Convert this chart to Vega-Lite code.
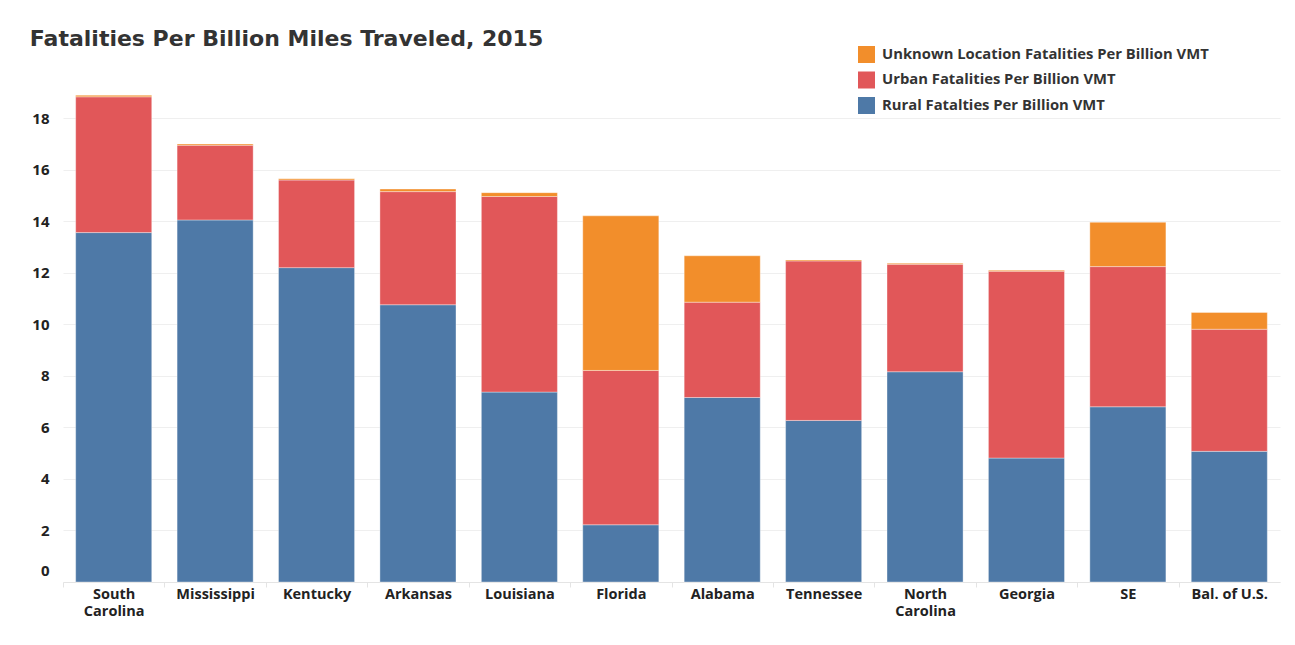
{
  "$schema": "https://vega.github.io/schema/vega-lite/v6.json",
  "width": 1217,
  "height": 512,
  "autosize": {"type": "none"},
  "padding": {"left": 63, "top": 70, "right": 15, "bottom": 63},
  "background": "white",
  "title": {"text": "Fatalities Per Billion Miles Traveled, 2015", "anchor": "start", "dx": -2, "dy": 45, "offset": 23, "baseline": "alphabetic", "font": "DejaVu Sans", "fontSize": 22, "fontWeight": "bold", "color": "#333333"},
  "data": {"values": [
    {"state": "South Carolina", "category": "Rural Fatalties Per Billion VMT", "rank": 1, "value": 13.56},
    {"state": "South Carolina", "category": "Urban Fatalities Per Billion VMT", "rank": 2, "value": 5.27},
    {"state": "South Carolina", "category": "Unknown Location Fatalities Per Billion VMT", "rank": 3, "value": 0.06},
    {"state": "Mississippi", "category": "Rural Fatalties Per Billion VMT", "rank": 1, "value": 14.05},
    {"state": "Mississippi", "category": "Urban Fatalities Per Billion VMT", "rank": 2, "value": 2.90},
    {"state": "Mississippi", "category": "Unknown Location Fatalities Per Billion VMT", "rank": 3, "value": 0.05},
    {"state": "Kentucky", "category": "Rural Fatalties Per Billion VMT", "rank": 1, "value": 12.20},
    {"state": "Kentucky", "category": "Urban Fatalities Per Billion VMT", "rank": 2, "value": 3.40},
    {"state": "Kentucky", "category": "Unknown Location Fatalities Per Billion VMT", "rank": 3, "value": 0.05},
    {"state": "Arkansas", "category": "Rural Fatalties Per Billion VMT", "rank": 1, "value": 10.76},
    {"state": "Arkansas", "category": "Urban Fatalities Per Billion VMT", "rank": 2, "value": 4.39},
    {"state": "Arkansas", "category": "Unknown Location Fatalities Per Billion VMT", "rank": 3, "value": 0.10},
    {"state": "Louisiana", "category": "Rural Fatalties Per Billion VMT", "rank": 1, "value": 7.37},
    {"state": "Louisiana", "category": "Urban Fatalities Per Billion VMT", "rank": 2, "value": 7.59},
    {"state": "Louisiana", "category": "Unknown Location Fatalities Per Billion VMT", "rank": 3, "value": 0.15},
    {"state": "Florida", "category": "Rural Fatalties Per Billion VMT", "rank": 1, "value": 2.22},
    {"state": "Florida", "category": "Urban Fatalities Per Billion VMT", "rank": 2, "value": 5.99},
    {"state": "Florida", "category": "Unknown Location Fatalities Per Billion VMT", "rank": 3, "value": 6.00},
    {"state": "Alabama", "category": "Rural Fatalties Per Billion VMT", "rank": 1, "value": 7.16},
    {"state": "Alabama", "category": "Urban Fatalities Per Billion VMT", "rank": 2, "value": 3.70},
    {"state": "Alabama", "category": "Unknown Location Fatalities Per Billion VMT", "rank": 3, "value": 1.80},
    {"state": "Tennessee", "category": "Rural Fatalties Per Billion VMT", "rank": 1, "value": 6.27},
    {"state": "Tennessee", "category": "Urban Fatalities Per Billion VMT", "rank": 2, "value": 6.19},
    {"state": "Tennessee", "category": "Unknown Location Fatalities Per Billion VMT", "rank": 3, "value": 0.04},
    {"state": "North Carolina", "category": "Rural Fatalties Per Billion VMT", "rank": 1, "value": 8.16},
    {"state": "North Carolina", "category": "Urban Fatalities Per Billion VMT", "rank": 2, "value": 4.17},
    {"state": "North Carolina", "category": "Unknown Location Fatalities Per Billion VMT", "rank": 3, "value": 0.04},
    {"state": "Georgia", "category": "Rural Fatalties Per Billion VMT", "rank": 1, "value": 4.81},
    {"state": "Georgia", "category": "Urban Fatalities Per Billion VMT", "rank": 2, "value": 7.25},
    {"state": "Georgia", "category": "Unknown Location Fatalities Per Billion VMT", "rank": 3, "value": 0.04},
    {"state": "SE", "category": "Rural Fatalties Per Billion VMT", "rank": 1, "value": 6.80},
    {"state": "SE", "category": "Urban Fatalities Per Billion VMT", "rank": 2, "value": 5.44},
    {"state": "SE", "category": "Unknown Location Fatalities Per Billion VMT", "rank": 3, "value": 1.72},
    {"state": "Bal. of U.S.", "category": "Rural Fatalties Per Billion VMT", "rank": 1, "value": 5.07},
    {"state": "Bal. of U.S.", "category": "Urban Fatalities Per Billion VMT", "rank": 2, "value": 4.74},
    {"state": "Bal. of U.S.", "category": "Unknown Location Fatalities Per Billion VMT", "rank": 3, "value": 0.65}
  ]},
  "mark": {"type": "bar", "stroke": "#ffffff", "strokeWidth": 0.6, "strokeOpacity": 0.6},
  "encoding": {
    "x": {
      "field": "state", "type": "nominal", "sort": null,
      "scale": {"paddingInner": 0.25, "paddingOuter": 0.125},
      "axis": {
        "title": null, "labelAngle": 0, "grid": false,
        "domain": true, "domainColor": "#e4e4e4", "domainWidth": 1,
        "ticks": true, "tickColor": "#e4e4e4", "tickSize": 5, "tickOffset": -50.7,
        "labelOffset": 50.7, "labelPadding": 0,
        "labelFont": "Open Sans", "labelFontSize": 14.5, "labelFontWeight": "bold", "labelColor": "#222222",
        "labelLineHeight": 17,
        "labelExpr": "indexof(datum.label, 'Carolina') > 0 ? split(datum.label, ' ') : datum.label"
      }
    },
    "y": {
      "field": "value", "type": "quantitative", "stack": "zero",
      "scale": {"domain": [0, 19.87], "nice": false},
      "axis": {
        "title": null, "values": [0, 2, 4, 6, 8, 10, 12, 14, 16, 18],
        "grid": true, "gridColor": "#efefef", "gridWidth": 1,
        "domain": false, "ticks": false, "labelPadding": 14,
        "labelFont": "Open Sans", "labelFontSize": 15, "labelFontWeight": "bold", "labelColor": "#222222",
        "labelOffset": {"condition": {"test": "datum.value == 0", "value": -12}, "value": 0}
      }
    },
    "color": {
      "field": "category", "type": "nominal",
      "scale": {
        "domain": ["Unknown Location Fatalities Per Billion VMT", "Urban Fatalities Per Billion VMT", "Rural Fatalties Per Billion VMT"],
        "range": ["#f28e2b", "#e15759", "#4e79a7"]
      },
      "legend": {
        "title": null, "orient": "none", "legendX": 795, "legendY": -24, "padding": 0,
        "symbolType": "square", "symbolSize": 289, "symbolStrokeWidth": 0, "symbolOpacity": 1,
        "labelFont": "Open Sans", "labelFontSize": 14.8, "labelFontWeight": "bold", "labelColor": "#333333",
        "labelOffset": 7, "rowPadding": 8.5, "labelLimit": 500
      }
    },
    "order": {"field": "rank", "type": "quantitative", "sort": "ascending"}
  },
  "config": {"view": {"stroke": null}}
}
